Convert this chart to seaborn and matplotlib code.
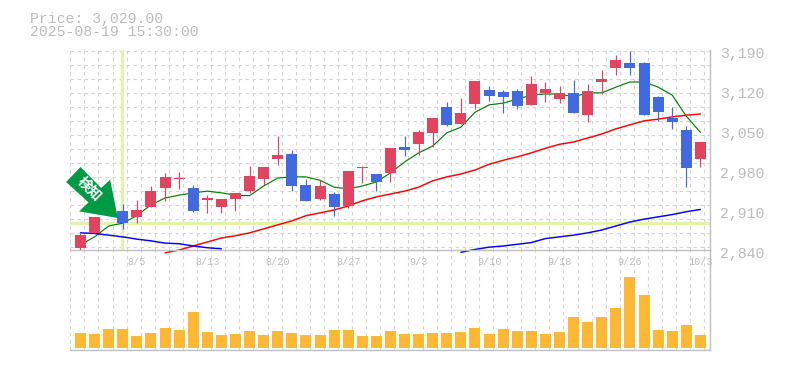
#!/usr/bin/env python3
# -*- coding: utf-8 -*-
"""
Daily candlestick chart with moving averages and volume
"""

import matplotlib
matplotlib.use('Agg')
import matplotlib.pyplot as plt
import seaborn as sns
import numpy as np
from matplotlib.patches import Polygon
from matplotlib.transforms import ScaledTranslation

header_price = 'Price: 3,029.00'
header_time = '2025-08-19 15:30:00'

opens = [2844, 2869, 2903, 2908, 2898, 2915, 2949, 2964, 2949, 2927, 2915, 2929, 2943, 2964, 2999,
         3008, 2954, 2929, 2938, 2917, 2983, 2973, 2975, 3020, 3025, 3045, 3090, 3060, 3095, 3120,
         3116, 3118, 3094, 3115, 3104, 3115, 3076, 3134, 3158, 3167, 3167, 3108, 3071, 3050, 2999]
highs = [2870, 2897, 2925, 2920, 2928, 2952, 2975, 2976, 2954, 2936, 2929, 2940, 2987, 2985, 3039,
         3015, 2964, 2962, 2941, 2978, 2987, 2973, 3018, 3039, 3050, 3071, 3099, 3106, 3136, 3127,
         3120, 3122, 3144, 3134, 3127, 3137, 3130, 3155, 3181, 3188, 3169, 3109, 3090, 3057, 3029]
lows = [2839, 2869, 2901, 2876, 2888, 2915, 2926, 2947, 2906, 2905, 2905, 2908, 2940, 2954, 2989,
        2943, 2926, 2927, 2899, 2913, 2957, 2943, 2959, 3004, 3006, 3020, 3057, 3060, 3087, 3101,
        3080, 3087, 3094, 3099, 3097, 3080, 3064, 3113, 3146, 3146, 3076, 3066, 3052, 2950, 2985]
closes = [2866, 2897, 2919, 2888, 2910, 2943, 2968, 2966, 2908, 2931, 2929, 2940, 2969, 2985, 3006,
          2952, 2926, 2952, 2915, 2978, 2985, 2959, 3018, 3015, 3046, 3071, 3059, 3080, 3136, 3110,
          3108, 3092, 3130, 3122, 3115, 3080, 3118, 3139, 3172, 3158, 3076, 3081, 3064, 2983, 3029]
volume = [15, 14, 19, 19, 12, 15, 20, 18, 36, 16, 13, 14, 17, 13, 17, 15, 13, 13, 18, 18, 12, 12, 17,
          14, 14, 15, 15, 16, 20, 14, 19, 17, 17, 14, 16, 31, 26, 31, 40, 71, 53, 18, 17, 23, 13]

ma_short = [2849, 2863, 2882, 2887, 2900, 2919, 2931, 2936, 2940, 2943, 2940, 2936, 2935, 2952, 2966,
            2968, 2968, 2962, 2950, 2947, 2952, 2959, 2975, 2994, 3010, 3022, 3045, 3055, 3081, 3094,
            3097, 3104, 3111, 3113, 3113, 3108, 3115, 3115, 3125, 3134, 3134, 3125, 3111, 3074, 3046]
# these two start later / drop out because they run off the bottom of the price panel
ma_mid = [2835, 2840, 2847, 2854, 2861, 2865, 2870, 2877, 2884, 2891, 2900, 2905, 2910, 2917, 2926,
          2933, 2938, 2943, 2950, 2961, 2968, 2973, 2980, 2990, 2997, 3003, 3010, 3018, 3025, 3029,
          3036, 3043, 3052, 3059, 3066, 3069, 3073, 3076, 3078]
ma_mid_start = 6
ma_long_head = [2870, 2869, 2866, 2863, 2859, 2856, 2852, 2851, 2847, 2844, 2842]
ma_long_tail = [2836, 2841, 2845, 2847, 2850, 2853, 2860, 2863, 2866, 2870, 2875, 2882, 2889, 2894,
                2898, 2902, 2907, 2911]
ma_long_tail_start = 27

price_ticks = [2840, 2910, 2980, 3050, 3120, 3190]
date_positions = [4, 9, 14, 19, 24, 29, 34, 39, 44]
date_labels = ['8/5', '8/13', '8/20', '8/27', '9/3', '9/10', '9/18', '9/26', '10/3']

cursor_index = 3
cursor_price = 2888

UP_COLOR = '#e2435f'
DOWN_COLOR = '#4169e1'
VOLUME_COLOR = '#ffb833'
AXIS_COLOR = '#c0c0c0'
GRID_COLOR = '#d4d4d4'
TEXT_COLOR = '#bcbcbc'
CURSOR_COLOR = '#e3f4a8'
ARROW_COLOR = '#009944'

sns.set_theme(style='white')
plt.rcParams['font.family'] = ['Liberation Mono', 'DejaVu Sans Mono']

W, H = 785, 370
fig = plt.figure(figsize=(W / 100, H / 100), dpi=100)
fig.patch.set_facecolor('white')
ax = fig.add_axes([70 / W, 1 - 250 / H, 640 / W, 200 / H])
ax_vol = fig.add_axes([70 / W, 1 - 350 / H, 640 / W, 100 / H])

n = len(closes)
idx = np.arange(n)
xlim = (-0.745, 44.68)

# volume
sns.barplot(x=idx, y=volume, ax=ax_vol, native_scale=True, color=VOLUME_COLOR,
            saturation=1, width=0.78, linewidth=0, zorder=3)

# moving averages, the candles sit on top of them
sns.lineplot(x=idx, y=ma_short, ax=ax, color='#008000', linewidth=0.85, zorder=2)
sns.lineplot(x=idx[ma_mid_start:], y=ma_mid, ax=ax, color='#ff0000', linewidth=1.05,
             zorder=2, clip_on=False)
sns.lineplot(x=idx[:len(ma_long_head)], y=ma_long_head, ax=ax, color='#0000ff',
             linewidth=1.05, zorder=2, clip_on=False)
sns.lineplot(x=idx[ma_long_tail_start:], y=ma_long_tail, ax=ax, color='#0000ff',
             linewidth=1.05, zorder=2, clip_on=False)

# candles
opens_a, closes_a = np.array(opens), np.array(closes)
colors = [UP_COLOR if c >= o else DOWN_COLOR for o, c in zip(opens, closes)]
ax.vlines(idx, lows, highs, colors=colors, linewidth=0.85, zorder=3)
ax.bar(idx, np.abs(closes_a - opens_a), bottom=np.minimum(opens_a, closes_a), width=0.78,
       color=colors, linewidth=0, zorder=3)

# cursor cross
ax.axvline(cursor_index - 0.02, color=CURSOR_COLOR, linewidth=2.3, zorder=1)
ax.axhline(cursor_price, color=CURSOR_COLOR, linewidth=2.3, zorder=1)

ax.set_xlim(*xlim)
ax.set_ylim(2840, 3190)
ax_vol.set_xlim(*xlim)
ax_vol.set_ylim(-2, 98)

# grid has a fixed pitch, it does not follow the ticks
ax.set_xticks(np.arange(46) - 0.724, minor=True)
ax.set_yticks(3189 - 24.5 * np.arange(15), minor=True)
ax_vol.set_xticks(np.arange(46) - 0.724, minor=True)
ax_vol.set_yticks([])
for a in (ax, ax_vol):
    a.set_axisbelow(True)
    a.grid(False, which='major')
    a.grid(True, which='minor', axis='x', color=GRID_COLOR, linewidth=0.8,
           linestyle=(0, (3.2, 3.1)))
    a.tick_params(which='minor', length=0)
    a.patch.set_alpha(0)
    a.set_xlabel('')
    a.set_ylabel('')
    for side in ('top', 'left'):
        a.spines[side].set_visible(False)
    for side in ('right', 'bottom'):
        a.spines[side].set_color(AXIS_COLOR)
        a.spines[side].set_linewidth(1.0)
ax.grid(True, which='minor', axis='y', color=GRID_COLOR, linewidth=0.8,
        linestyle=(0, (3.2, 3.1)))

ax.set_xticks(date_positions)
ax.set_xticklabels(date_labels, fontsize=7.3, color=TEXT_COLOR)
ax.tick_params(axis='x', which='major', length=0, pad=5)
ax.yaxis.tick_right()
ax.set_yticks(price_ticks)
ax.set_yticklabels([f'{p:,}' for p in price_ticks], fontsize=10.7, color=TEXT_COLOR)
ax.tick_params(axis='y', which='major', length=0, pad=7.5)
for label in ax.get_yticklabels():
    label.set_transform(label.get_transform() + ScaledTranslation(0, -2.2 / 100, fig.dpi_scale_trans))
ax_vol.set_xticks([])
ax.set_zorder(2)

fig.text(30 / W, 1 - 18.5 / H, header_price, fontsize=10.7, color=TEXT_COLOR, va='center')
fig.text(30 / W, 1 - 32.5 / H, header_time, fontsize=10.7, color=TEXT_COLOR, va='center')

# signal arrow, shape is in pixels relative to the tip at the cursor candle
tip = ax.transData.transform((cursor_index - 0.35, cursor_price + 8))
shape = np.array([[-51.7, -36], [-37.3, -51], [-16.7, -30], [-7.7, -38.3], [0, 0],
                  [-38.7, -6.6], [-29.3, -15.6]])
pts = tip + shape * [1, -1]
ax.add_patch(Polygon(pts, closed=True, transform=None, facecolor=ARROW_COLOR,
                     edgecolor='none', zorder=5, clip_on=False))
label_center = tip + np.array([-29, 28.5])
ax.text(label_center[0], label_center[1], '検知', transform=None, rotation=-45,
        rotation_mode='anchor', ha='center', va='center', color='white', fontsize=10,
        fontweight='bold', family=['Noto Sans CJK JP', 'DejaVu Sans'], zorder=6, clip_on=False)

fig.savefig('out.png', dpi=100, facecolor='white')
